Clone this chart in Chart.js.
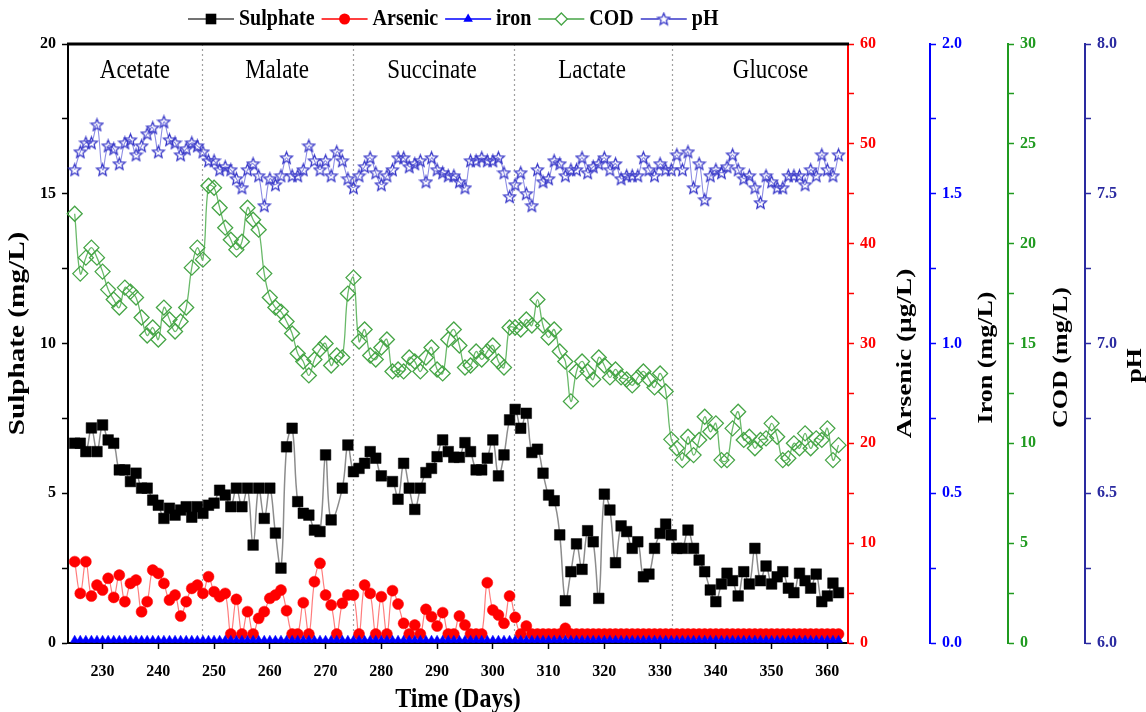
<!DOCTYPE html>
<html><head><meta charset="utf-8">
<script src="https://cdn.jsdelivr.net/npm/chart.js@4/dist/chart.umd.min.js"></script>
<style>html,body{margin:0;padding:0;background:#fff;}#wrap{width:1146px;height:712px;}</style>
</head><body><div id="wrap"><canvas id="c" width="1146" height="712"></canvas></div>
<script>
// ---------------- DATA ----------------
const days = [
 225,226,227,228,229,230,231,232,233,234,235,236,237,238,239,240,241,242,243,244,
 245,246,247,248,249,250,251,252,253,254,255,256,257,258,259,260,261,262,263,264,
 265,266,267,268,269,270,271,272,273,274,275,276,277,278,279,280,281,282,283,284,
 285,286,287,288,289,290,291,292,293,294,295,296,297,298,299,300,301,302,303,304,
 305,306,307,308,309,310,311,312,313,314,315,316,317,318,319,320,321,322,323,324,
 325,326,327,328,329,330,331,332,333,334,335,336,337,338,339,340,341,342,343,344,
 345,346,347,348,349,350,351,352,353,354,355,356,357,358,359,360,361,362];

const sulphate = [
 6.67,6.67,6.39,7.18,6.39,7.28,6.78,6.67,5.78,5.78,
 5.39,5.67,5.17,5.17,4.77,4.6,4.16,4.5,4.27,4.44,
 4.55,4.2,4.55,4.33,4.6,4.67,5.1,4.94,4.55,5.17,
 4.55,5.17,3.27,5.17,4.16,5.17,3.67,2.5,6.55,7.17,
 4.72,4.33,4.27,3.77,3.72,6.28,4.11,null,5.17,6.61,
 5.72,5.83,6.0,6.39,6.17,5.58,null,5.39,4.8,6.0,
 5.17,4.46,5.17,5.69,5.83,6.22,6.78,6.39,6.2,6.2,
 6.69,6.39,5.78,5.78,6.17,6.78,5.58,6.28,7.45,7.8,
 7.17,7.67,6.36,6.47,5.67,4.94,4.75,3.61,1.41,2.38,
 3.31,2.46,3.75,3.38,1.49,4.97,4.44,2.68,3.91,3.72,
 3.16,3.38,2.21,2.3,3.16,3.66,3.97,3.61,3.16,3.16,
 3.77,3.16,2.77,2.38,1.77,1.38,1.97,2.33,2.08,1.57,
 2.38,1.97,3.16,2.08,2.57,1.97,2.21,2.38,1.83,1.68,
 2.33,2.08,1.83,2.3,1.38,1.57,2.0,1.68];

const arsenic = [
 8.15,4.97,8.15,4.7,5.8,5.3,6.48,4.57,6.8,4.14,
 5.97,6.3,3.13,4.14,7.3,6.97,5.97,4.3,4.8,2.7,
 4.14,5.47,5.8,4.97,6.64,5.14,4.64,4.97,0.9,4.37,
 0.9,3.14,0.9,2.47,3.14,4.47,4.8,5.3,3.24,0.9,
 0.9,4.04,0.9,6.14,7.98,4.8,3.8,0.9,3.97,4.8,
 4.8,0.9,5.8,4.97,0.9,4.64,0.9,5.24,3.9,1.97,
 0.9,1.8,0.9,3.37,2.64,1.7,3.04,0.9,0.9,2.7,
 1.8,0.9,0.9,0.9,6.04,3.3,2.8,1.97,4.7,2.57,
 0.9,1.7,0.9,0.9,0.9,0.9,0.9,0.9,1.47,0.9,
 0.9,0.9,0.9,0.9,0.9,0.9,0.9,0.9,0.9,0.9,
 0.9,0.9,0.9,0.9,0.9,0.9,0.9,0.9,0.9,0.9,
 0.9,0.9,0.9,0.9,0.9,0.9,0.9,0.9,0.9,0.9,
 0.9,0.9,0.9,0.9,0.9,0.9,0.9,0.9,0.9,0.9,
 0.9,0.9,0.9,0.9,0.9,0.9,0.9,0.9];

const iron = [
 0.01,0.01,0.01,0.01,0.01,0.01,0.01,0.01,0.01,0.01,
 0.01,0.01,0.01,0.01,0.01,0.01,0.01,0.01,0.01,0.01,
 0.01,0.01,0.01,0.01,0.01,0.01,0.01,0.01,0.01,0.01,
 0.01,0.01,0.01,0.01,0.01,0.01,0.01,0.01,0.01,0.01,
 0.01,0.01,0.01,0.01,0.01,0.01,0.01,0.01,0.01,0.01,
 0.01,0.01,0.01,0.01,0.01,0.01,0.01,0.01,0.01,0.01,
 0.01,0.01,0.01,0.01,0.01,0.01,0.01,0.01,0.01,0.01,
 0.01,0.01,0.01,0.01,0.01,0.01,0.01,0.01,0.01,0.01,
 0.01,0.01,0.01,0.01,0.01,0.01,0.01,0.01,0.01,0.01,
 0.01,0.01,0.01,0.01,0.01,0.01,0.01,0.01,0.01,0.01,
 0.01,0.01,0.01,0.01,0.01,0.01,0.01,0.01,0.01,0.01,
 0.01,0.01,0.01,0.01,0.01,0.01,0.01,0.01,0.01,0.01,
 0.01,0.01,0.01,0.01,0.01,0.01,0.01,0.01,0.01,0.01,
 0.01,0.01,0.01,0.01,0.01,0.01,0.01,0.01];

const cod = [
 21.5,18.5,19.3,19.8,19.3,18.6,17.7,17.2,16.8,17.8,
 17.6,17.3,16.3,15.4,15.8,15.2,16.8,16.2,15.6,16.1,
 16.8,18.8,19.8,19.2,22.9,22.8,21.8,20.8,20.2,19.7,
 20.1,21.8,21.2,20.7,18.5,17.3,16.8,16.6,16.1,15.5,
 14.5,14.1,13.4,14.2,14.7,15.0,13.9,14.4,14.3,17.5,
 18.3,15.1,15.7,14.4,14.2,14.8,15.2,13.6,13.7,13.6,
 14.3,14.1,13.6,14.3,14.8,13.7,13.5,15.2,15.7,14.9,
 13.8,13.9,14.6,14.2,14.6,14.9,14.1,13.8,15.8,15.8,
 15.7,16.2,15.9,17.2,15.9,15.3,15.7,14.6,14.1,12.1,
 13.6,14.1,13.6,13.2,14.3,13.9,13.3,13.7,13.3,13.2,
 12.9,13.3,13.6,13.2,12.8,13.5,12.6,10.2,9.75,9.16,
 10.33,9.41,10.17,11.33,10.58,11.0,9.16,9.16,10.75,11.58,
 10.17,10.33,9.75,10.17,10.25,11.0,10.33,9.16,9.25,10.0,
 9.75,10.5,9.75,10.25,10.17,10.75,9.16,9.91];

const pH = [
 7.58,7.64,7.67,7.67,7.73,7.58,7.66,7.65,7.60,7.67,
 7.68,7.63,7.66,7.70,7.72,7.64,7.74,7.68,7.67,7.63,
 7.65,7.67,7.66,7.64,7.61,7.61,7.58,7.59,7.58,7.55,
 7.52,7.58,7.60,7.56,7.46,7.55,7.53,7.56,7.62,7.56,
 7.56,7.58,7.66,7.61,7.58,7.61,7.56,7.64,7.61,7.55,
 7.52,7.56,7.59,7.62,7.57,7.53,7.56,7.58,7.62,7.62,
 7.59,7.60,7.61,7.54,7.62,7.58,7.57,7.56,7.56,7.54,
 7.52,7.61,7.61,7.62,7.61,7.61,7.62,7.57,7.49,7.53,
 7.57,7.50,7.46,7.58,7.54,7.55,7.61,7.60,7.56,7.58,
 7.58,7.62,7.57,7.59,7.60,7.62,7.58,7.60,7.55,7.56,
 7.56,7.56,7.62,7.58,7.56,7.60,7.58,7.58,7.63,7.58,
 7.64,7.52,7.60,7.48,7.56,7.58,7.57,7.59,7.63,7.58,
 7.55,7.56,7.52,7.47,7.56,7.54,7.52,7.52,7.56,7.56,
 7.56,7.53,7.58,7.56,7.63,7.58,7.56,7.63];

const dayTicks = [230,240,250,260,270,280,290,300,310,320,330,340,350,360];
const sulphateTicks = [0,2.5,5,7.5,10,12.5,15,17.5,20];
const arsenicTicks = [0,5,10,15,20,25,30,35,40,45,50,55,60];
const ironTicks = [0,0.25,0.5,0.75,1,1.25,1.5,1.75,2];
const codTicks = [0,2.5,5,7.5,10,12.5,15,17.5,20,22.5,25,27.5,30];
const pHTicks = [6,6.25,6.5,6.75,7,7.25,7.5,7.75,8];
const phases = ['Acetate','Malate','Succinate','Lactate','Glucose'];
const phaseBounds = [247.8,274.9,303.8,332.2];
const phaseLabelDays = [235.8,261.3,289.1,317.8,349.8];

// ---------------- STYLE ----------------
const FAM = '"Liberation Serif","Times New Roman",serif';
const C = {
  sul:'#000000', sulLine:'#8c8c8c',
  as:'#ff0000', asLine:'rgba(255,80,80,0.75)',
  fe:'#0000ff', feLine:'#3030ff',
  cod:'rgb(70,165,70)', codLine:'rgb(105,185,105)',
  ph:'rgb(55,55,200)', phLine:'rgb(140,140,228)',
  axAs:'#ff0000', axFe:'#0000ff', axCod:'#1f9a1f', axPh:'#2a2aa0'
};

function makeStar(size, color, lw){
  const c = document.createElement('canvas'); c.width = size; c.height = size;
  const g = c.getContext('2d'); const cx = size/2, cy = size/2 + 0.5;
  const R = size/2 - lw, r = R*0.45;
  g.beginPath();
  for (let i=0;i<10;i++){ const a = -Math.PI/2 + i*Math.PI/5; const rr = i%2 ? r : R;
    const px = cx + rr*Math.cos(a), py = cy + rr*Math.sin(a); i ? g.lineTo(px,py) : g.moveTo(px,py); }
  g.closePath(); g.strokeStyle = color; g.lineWidth = lw; g.lineJoin='miter'; g.stroke();
  return c;
}
const starImg = makeStar(15, C.ph, 1.3);

const pts = arr => days.map((d,i)=>({x:d, y:arr[i]}));
const lbl = (step) => (v) => (Math.abs(v/step - Math.round(v/step)) < 1e-6 ? v : '');

function yAxis(pos, min, max, ticks, color, width, weight, labelFn){
  return {
    type:'linear', position:pos, min, max, weight,
    afterBuildTicks: s => { s.ticks = ticks.map(v=>({value:v})); },
    afterFit: s => { s.width = width; },
    grid:{drawOnChartArea:false, drawTicks:true, tickLength:6, tickColor:color, tickWidth:1.5, color:color},
    border:{display:true, color:color, width:2},
    ticks:{color, font:{family:FAM, size:16, weight:'bold'}, padding:6, autoSkip:false, callback: labelFn},
    title:{display:false}
  };
}

function txt(ctx, s, x, y, o){
  ctx.save(); ctx.translate(x,y); if (o.rot) ctx.rotate(o.rot);
  const sy = o.sy || 1;
  if (o.rot) ctx.scale(sy,1); else ctx.scale(1,sy);
  ctx.font = (o.weight||'bold') + ' ' + o.size + 'px ' + FAM;
  ctx.fillStyle = o.color || '#000'; ctx.textAlign = o.align || 'center'; ctx.textBaseline = 'middle';
  ctx.fillText(s,0,0); ctx.restore();
}

function marker(ctx, type, x, y){
  ctx.save();
  if (type==='rect'){ ctx.fillStyle=C.sul; ctx.fillRect(x-5.3,y-5.3,10.6,10.6); }
  else if (type==='circle'){ ctx.fillStyle=C.as; ctx.beginPath(); ctx.arc(x,y,5.5,0,Math.PI*2); ctx.fill(); }
  else if (type==='triangle'){ ctx.fillStyle=C.fe; ctx.beginPath(); const r=5.5;
    ctx.moveTo(x,y-r); ctx.lineTo(x+r*0.866,y+r/2); ctx.lineTo(x-r*0.866,y+r/2); ctx.closePath(); ctx.fill(); }
  else if (type==='diamond'){ ctx.fillStyle='#fff'; ctx.strokeStyle=C.cod; ctx.lineWidth=1.3; ctx.beginPath();
    ctx.moveTo(x-6,y); ctx.lineTo(x,y-6); ctx.lineTo(x+6,y); ctx.lineTo(x,y+6); ctx.closePath(); ctx.fill(); ctx.stroke(); }
  else if (type==='star'){ ctx.fillStyle='#fff'; ctx.fillRect(x-5,y-5,10,10); ctx.drawImage(starImg, x-starImg.width/2, y-starImg.height/2); }
  ctx.restore();
}

const legendItems = [
  {text:'Sulphate', line:'#444', m:'rect'},
  {text:'Arsenic', line:C.as, m:'circle'},
  {text:'iron', line:C.fe, m:'triangle'},
  {text:'COD', line:C.cod, m:'diamond'},
  {text:'pH', line:C.ph, m:'star'}
];

const overlay = {
  id:'overlay',
  beforeDatasetsDraw(chart){
    const {ctx, chartArea:a, scales:{x}} = chart;
    ctx.save(); ctx.strokeStyle='#a0a0a0'; ctx.lineWidth=1.2; ctx.setLineDash([2,3]);
    phaseBounds.forEach(d=>{ const px = Math.round(x.getPixelForValue(d))+0.5;
      ctx.beginPath(); ctx.moveTo(px,a.top); ctx.lineTo(px,a.bottom); ctx.stroke(); });
    ctx.restore();
    phases.forEach((p,i)=> txt(ctx, p, x.getPixelForValue(phaseLabelDays[i]), a.top+27,
      {size:23, weight:'normal', sy:1.15}));
  },
  afterDraw(chart){
    const {ctx, chartArea:a, scales} = chart;
    ctx.save(); ctx.strokeStyle='#000'; ctx.lineWidth=3; ctx.beginPath();
    ctx.moveTo(a.left-1, a.top); ctx.lineTo(a.right+1, a.top); ctx.stroke(); ctx.restore();
    const cy = (a.top+a.bottom)/2;
    txt(ctx,'Sulphate (mg/L)', 18, cy-10, {size:23, rot:-Math.PI/2, sy:1.27});
    txt(ctx,'Time (Days)', (a.left+a.right)/2, 700, {size:24, sy:1.12});
    txt(ctx,'Arsenic (µg/L)', scales.yAs.left+57, cy+10, {size:22, rot:-Math.PI/2, sy:1.24});
    txt(ctx,'Iron (mg/L)', scales.yFe.left+57, cy+14, {size:21, rot:-Math.PI/2, sy:1.24});
    txt(ctx,'COD (mg/L)', scales.yCod.left+54, cy+14, {size:21, rot:-Math.PI/2, sy:1.24});
    txt(ctx,'pH', scales.yPh.left+51, cy+22, {size:21, rot:-Math.PI/2, sy:1.24});
    let lx = 188; const ly = 19;
    ctx.save(); ctx.font = 'bold 20px ' + FAM;
    legendItems.forEach(it=>{
      ctx.strokeStyle = it.line; ctx.lineWidth = 1.5;
      ctx.beginPath(); ctx.moveTo(lx, ly); ctx.lineTo(lx+46, ly); ctx.stroke();
      marker(ctx, it.m, lx+23, ly);
      const w = ctx.measureText(it.text).width;
      txt(ctx, it.text, lx+51, ly, {size:20, align:'left', sy:1.15});
      ctx.font = 'bold 20px ' + FAM;
      lx += 51 + w + 7;
    });
    ctx.restore();
  }
};

Chart.defaults.font.family = FAM;

new Chart(document.getElementById('c'), {
  type:'line',
  data:{ datasets:[
    {label:'Sulphate', data:pts(sulphate), yAxisID:'ySul', order:5, borderColor:C.sulLine, borderWidth:1.5,
     pointStyle:'rect', pointRadius:7.5, pointBackgroundColor:C.sul, pointBorderColor:C.sul, pointBorderWidth:0.5,
     tension:0.4, spanGaps:true, clip:false},
    {label:'Arsenic', data:pts(arsenic), yAxisID:'yAs', order:4, borderColor:C.asLine, borderWidth:1.2,
     pointStyle:'circle', pointRadius:5.5, pointBackgroundColor:C.as, pointBorderColor:C.as, pointBorderWidth:0.5,
     tension:0.4, clip:false},
    {label:'iron', data:pts(iron), yAxisID:'yFe', order:3, borderColor:C.feLine, borderWidth:1,
     pointStyle:'triangle', pointRadius:4.8, pointBackgroundColor:C.fe, pointBorderColor:C.fe, pointBorderWidth:0.5,
     tension:0, clip:false},
    {label:'COD', data:pts(cod), yAxisID:'yCod', order:2, borderColor:C.codLine, borderWidth:1.3,
     pointStyle:'rectRot', pointRadius:7.5, pointBackgroundColor:'rgba(255,255,255,0)', pointBorderColor:C.cod, pointBorderWidth:1.3,
     tension:0.4, clip:false},
    {label:'pH', data:pts(pH), yAxisID:'yPh', order:1, borderColor:C.phLine, borderWidth:1.1,
     pointStyle:starImg, pointRadius:7, tension:0.4, clip:false}
  ]},
  options:{
    responsive:false, animation:false, devicePixelRatio:1,
    layout:{padding:{top:44, left:0, right:0, bottom:0}},
    plugins:{legend:{display:false}, tooltip:{enabled:false}},
    scales:{
      x:{type:'linear', position:'bottom', min:223.8, max:363.7,
        afterBuildTicks: s => { s.ticks = dayTicks.map(v=>({value:v})); },
        afterFit: s => { s.height = 69; },
        grid:{drawOnChartArea:false, drawTicks:true, tickLength:6, tickColor:'#000', tickWidth:1.5, color:'#000'},
        border:{display:true, color:'#000', width:2},
        ticks:{color:'#000', font:{family:FAM, size:16, weight:'bold'}, padding:13, maxRotation:0, autoSkip:false, callback:v=>v},
        title:{display:false}},
      ySul: yAxis('left', 0, 20, sulphateTicks, '#000', 68, 0, lbl(5)),
      yAs: yAxis('right', 0, 60, arsenicTicks, C.axAs, 82, 0, lbl(10)),
      yFe: yAxis('right', 0, 2, ironTicks, C.axFe, 78, 1, v => (Math.abs(v*2-Math.round(v*2))<1e-6 ? v.toFixed(1) : '')),
      yCod: yAxis('right', 0, 30, codTicks, C.axCod, 77, 2, lbl(5)),
      yPh: yAxis('right', 6, 8, pHTicks, C.axPh, 61, 3, v => (Math.abs(v*2-Math.round(v*2))<1e-6 ? v.toFixed(1) : ''))
    }
  },
  plugins:[overlay]
});
</script></body></html>
